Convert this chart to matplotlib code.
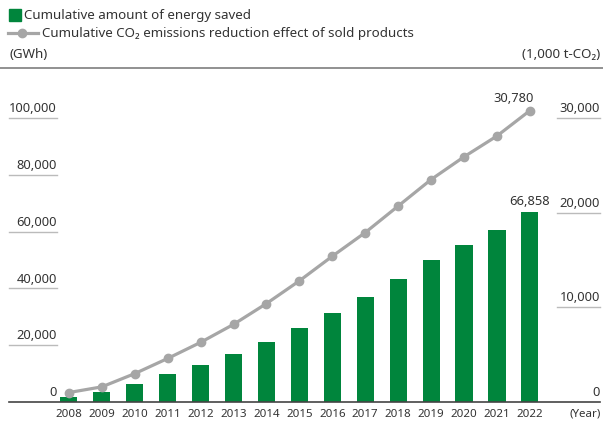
import matplotlib
matplotlib.use("Agg")
import matplotlib.pyplot as plt
from matplotlib.lines import Line2D
from matplotlib.patches import Rectangle

plt.rcParams['font.family'] = ['Noto Sans', 'DejaVu Sans']

years = list(range(2008, 2023))
energy_saved = [1900, 3600, 6300, 9900, 13000, 16900, 21100, 26000,
                31300, 37000, 43300, 50000, 55300, 60600, 66858]
co2_reduction = [1000, 1600, 3000, 4600, 6300, 8200, 10400, 12800,
                 15400, 17900, 20700, 23500, 25900, 28100, 30780]
left_ticks = [0, 20000, 40000, 60000, 80000, 100000]
right_ticks = [0, 10000, 20000, 30000]

GREEN = '#00853c'
GRAY = '#a6a6a6'
TXT = '#333333'
W, H = 603, 425

fig = plt.figure(figsize=(W / 100, H / 100), dpi=100)
ax = fig.add_axes([9 / W, (H - 402) / H, 591 / W, 284 / H])
ax2 = ax.twinx()

ax.bar(years, energy_saved, width=0.52, color=GREEN, zorder=2)
ax2.plot(years, co2_reduction, color=GRAY, lw=2.3, marker='o', ms=6,
         zorder=3, clip_on=False)

ax.set_xlim(2006.18, 2024.13)
ax.set_ylim(0, 100000)
ax2.set_ylim(0, 30000)

for a in (ax, ax2):
    a.set_yticks([])
    a.tick_params(axis='x', length=0, labelsize=8.3, colors=TXT, pad=5)
    for s in a.spines.values():
        s.set_visible(False)
ax.spines['bottom'].set_visible(True)
ax.spines['bottom'].set_color('#444444')
ax.spines['bottom'].set_linewidth(1.2)
ax.set_xticks(years)
ax.set_xticklabels([str(y) for y in years])

# left axis labels with short underlines
tl = ax.get_yaxis_transform()
for v in left_ticks:
    if v > 0:
        ax.plot([0, 0.081], [v, v], color='#bbbbbb', lw=1, transform=tl, clip_on=False)
    ax.text(0.081, v + 1000, f'{v:,}', transform=tl, ha='right', va='bottom',
            fontsize=9.3, color=TXT)

tr = ax2.get_yaxis_transform()
for v in right_ticks:
    if v > 0:
        ax2.plot([0.927, 1.0], [v, v], color='#bbbbbb', lw=1, transform=tr, clip_on=False)
    ax2.text(1.0, v + 300, f'{v:,}', transform=tr, ha='right', va='bottom',
             fontsize=9.3, color=TXT)

ax.annotate(f'{energy_saved[-1]:,}', (years[-1], energy_saved[-1]),
            xytext=(0, 3), textcoords='offset points', ha='center', va='bottom',
            fontsize=9.3, color=TXT, annotation_clip=False)
ax2.annotate(f'{co2_reduction[-1]:,}', (years[-1], co2_reduction[-1]),
             xytext=(-12, 4), textcoords='offset points', ha='center', va='bottom',
             fontsize=9.3, color=TXT, annotation_clip=False)

fig.text(585 / W, 1 - 414 / H, '(Year)', ha='center', va='center', fontsize=8.3, color=TXT)

# legend and unit headers
fig.patches.append(Rectangle((9 / W, 1 - 21 / H), 12 / W, 12 / H,
                             transform=fig.transFigure, color=GREEN))
fig.text(24 / W, 1 - 15 / H, 'Cumulative amount of energy saved', va='center',
         fontsize=9.6, color=TXT)
fig.add_artist(Line2D([8 / W, 38 / W], [1 - 33 / H, 1 - 33 / H], color=GRAY, lw=2.3,
                      transform=fig.transFigure))
fig.add_artist(Line2D([22 / W], [1 - 33 / H], color=GRAY, marker='o', ms=6,
                      transform=fig.transFigure))
fig.text(42 / W, 1 - 33 / H, 'Cumulative CO\u2082 emissions reduction effect of sold products',
         va='center', fontsize=9.6, color=TXT)
fig.text(9 / W, 1 - 55 / H, '(GWh)', va='center', fontsize=9.6, color=TXT)
fig.text(600 / W, 1 - 55 / H, '(1,000 t-CO\u2082)', va='center', ha='right',
         fontsize=9.6, color=TXT)
fig.add_artist(Line2D([0, 1], [1 - 68 / H, 1 - 68 / H], color='#888888', lw=1.3,
                      transform=fig.transFigure))

fig.savefig('out.png', dpi=100)
